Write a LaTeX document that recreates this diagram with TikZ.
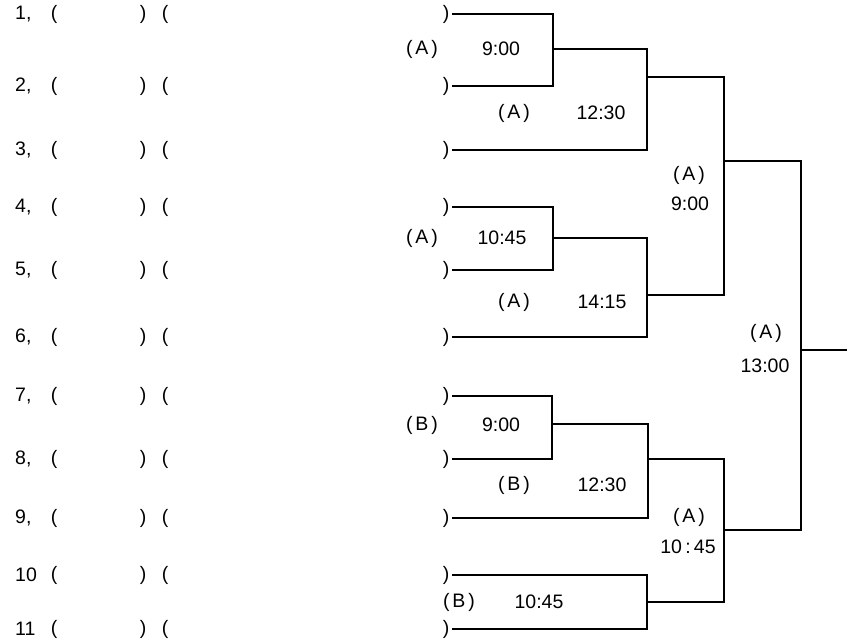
\documentclass[tikz,border=0pt]{standalone}
\usepackage{fontspec}
\setmainfont{Liberation Sans}
\usepackage{tikz}

\begin{document}
\begin{tikzpicture}[x=1pt, y=-1pt, every node/.style={font=\fontsize{19.5}{22}\selectfont, inner sep=0pt}, bline/.style={line width=1.2pt}]
	\useasboundingbox (0,0) rectangle (847,640);
	\foreach \i/\lab/\row in {1/{1,}/14, 2/{2,}/86, 3/{3,}/150, 4/{4,}/207, 5/{5,}/270, 6/{6,}/337, 7/{7,}/396, 8/{8,}/459, 9/{9,}/518, 10/{10}/575, 11/{11}/629} {
		\node[anchor=west] (num\i) at (15,\row) {\lab};
		\node (lpa\i) at (54,\row) {(};
		\node (rpa\i) at (143,\row) {)};
		\node (lpb\i) at (165,\row) {(};
		\node (rpb\i) at (446,\row) {)};
	}
	% match points
	\coordinate (q1) at (553,49);
	\coordinate (q2) at (553,238);
	\coordinate (q3) at (552,424);
	\coordinate (q4) at (647,602);
	\coordinate (s1) at (647,77);
	\coordinate (s2) at (647,295);
	\coordinate (s3) at (648,459);
	\coordinate (f1) at (724,161);
	\coordinate (f2) at (724,530);
	\coordinate (fin) at (801,350);
	\coordinate (win) at (847,350);
	\foreach \i/\m in {1/q1, 2/q1, 3/s1, 4/q2, 5/q2, 6/s2, 7/q3, 8/q3, 9/s3, 10/q4, 11/q4} {
		\draw[bline] ([xshift=3pt]rpb\i.east) -| (\m);
	}
	\draw[bline] (q1) -| (s1);
	\draw[bline] (q2) -| (s2);
	\draw[bline] (q3) -| (s3);
	\draw[bline] (s1) -| (f1);
	\draw[bline] (s2) -| (f1);
	\draw[bline] (s3) -| (f2);
	\draw[bline] (q4) -| (f2);
	\draw[bline] (f1) -| (fin);
	\draw[bline] (f2) -| (fin);
	\draw[bline] (fin) -- (win);
	% courts and times
	\foreach \n/\gx/\gy/\g/\tx/\ty/\t in {1/422/49/A/501/49/9:00, 2/514/113/A/601/113/12:30, 3/689/175/A/690/204/9:00, 4/422/238/A/502/238/10:45, 5/514/302/A/602/302/14:15, 6/766/333/A/765/366/13:00, 7/422/425/B/501/425/9:00, 8/514/485/B/602/485/12:30, 9/689/517/A/688/547/10\,:\,45, 10/459/602/B/539/602/10:45} {
		\node (court\n) at (\gx,\gy) {(\hspace{3pt}\g\hspace{3pt})};
		\node (time\n) at (\tx,\ty) {\t};
	}
\end{tikzpicture}
\end{document}
